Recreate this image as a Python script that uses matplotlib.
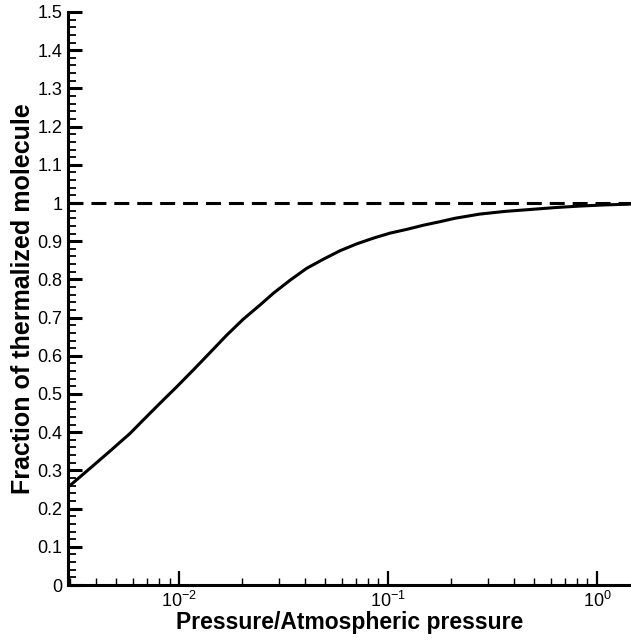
import matplotlib
matplotlib.use('Agg')
import matplotlib.pyplot as plt
from matplotlib.ticker import MultipleLocator, FormatStrFormatter, LogLocator

# Thermalized fraction vs. normalized pressure
pressure = [0.00294, 0.00389, 0.00468, 0.00583, 0.00674, 0.00811, 0.00975,
            0.0117, 0.0141, 0.0169, 0.0203, 0.0244, 0.0283, 0.0340, 0.0408,
            0.0491, 0.0589, 0.0708, 0.0851, 0.102, 0.123, 0.148, 0.177,
            0.209, 0.275, 0.363, 0.479, 0.630, 0.830, 1.09, 1.45]
fraction = [0.256, 0.313, 0.351, 0.397, 0.432, 0.476, 0.519,
            0.563, 0.609, 0.654, 0.696, 0.733, 0.764, 0.798, 0.829,
            0.853, 0.875, 0.893, 0.908, 0.921, 0.931, 0.942, 0.951,
            0.960, 0.971, 0.978, 0.983, 0.988, 0.992, 0.995, 0.997]
reference_level = 1.0

plt.rcParams['font.family'] = ['Liberation Sans', 'DejaVu Sans']
plt.rcParams['mathtext.fontset'] = 'custom'
plt.rcParams['mathtext.rm'] = 'Liberation Sans'

fig = plt.figure(figsize=(6.31, 6.41), dpi=100)
ax = fig.add_axes([68 / 631, 56 / 641, 563 / 631, 573 / 641])

ax.plot(pressure, fraction, color='black', linewidth=2.2,
        solid_joinstyle='round', solid_capstyle='butt')
ax.axhline(reference_level, color='black', linewidth=2.2, dashes=(4.9, 2.6))

ax.set_xscale('log')
ax.set_xlim(0.00294, 1.455)
ax.set_ylim(0, 1.5)

ax.yaxis.set_major_locator(MultipleLocator(0.1))
ax.yaxis.set_minor_locator(MultipleLocator(0.02))
ax.yaxis.set_major_formatter(FormatStrFormatter('%g'))
ax.xaxis.set_major_locator(LogLocator(base=10, numticks=10))
ax.xaxis.set_minor_locator(LogLocator(base=10, subs=range(2, 10), numticks=10))

ax.tick_params(which='both', direction='in', labelsize=13, color='black')
ax.tick_params(axis='y', which='major', length=10, width=2.2, pad=4)
ax.tick_params(axis='y', which='minor', length=6, width=1.3)
ax.tick_params(axis='x', which='major', length=10, width=1.6, pad=4)
ax.tick_params(axis='x', which='minor', length=5, width=1.0)

for side in ('top', 'right'):
    ax.spines[side].set_visible(False)
for side in ('left', 'bottom'):
    ax.spines[side].set_linewidth(2.2)

ax.set_xlabel('Pressure/Atmospheric pressure', fontsize=16.5, fontweight='bold', labelpad=0)
ax.set_ylabel('Fraction of thermalized molecule', fontsize=18, fontweight='bold', labelpad=2)

plt.savefig('out.png', dpi=100)
plt.close()
